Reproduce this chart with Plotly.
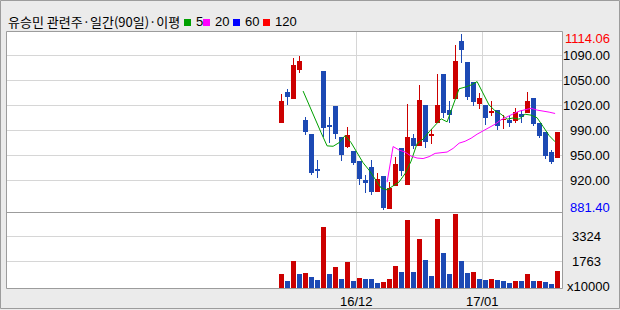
import plotly.graph_objects as go
import pandas as pd

# ---------------- data ----------------
idx = list(range(47))  # trading days 16/11/14 .. 17/01/18
opens = [996.8, 1037.4, 1028.5, 1066.9, 1000.4, 981.9, 935.6, 1065.2, 993.8, 1018.9,
         977.9, 965.1, 959.4, 946.2, 920.7, 938.2, 905.6, 926.3, 883.1, 913.1,
         963.4, 914.4, 977.0, 966.4, 1020.2, 979.6, 996.4, 1061.2, 1013.6, 1028.5,
         1104.8, 1077.0, 1050.6, 1021.9, 1020.2, 1010.0, 1013.6, 1000.4, 1000.8, 999.4,
         1008.3, 1010.0, 1029.5, 996.4, 984.5, 958.1, 950.5]
highs = [1034.3, 1041.4, 1082.3, 1085.0, 1003.9, 981.9, 947.5, 1065.2, 1003.9, 1018.9,
         977.9, 991.1, 959.4, 946.2, 927.7, 947.5, 930.3, 926.3, 918.4, 951.5,
         963.4, 1021.5, 981.9, 1046.6, 1020.2, 988.5, 1061.2, 1061.2, 1025.5, 1099.5,
         1114.06, 1077.0, 1050.6, 1036.1, 1020.2, 1025.5, 1013.6, 1007.0, 1005.7, 1016.2,
         1013.6, 1037.8, 1029.5, 996.4, 984.5, 960.7, 984.5]
lows = [996.8, 1020.2, 1028.5, 1062.9, 980.9, 928.1, 924.1, 978.3, 970.4, 975.7,
        946.6, 963.0, 941.3, 914.8, 904.3, 901.6, 905.6, 881.4, 883.1, 913.1,
        927.0, 914.4, 962.0, 966.4, 963.0, 969.0, 996.4, 1003.4, 996.4, 1028.5,
        1076.1, 1026.8, 1018.9, 1014.9, 993.8, 1006.1, 987.5, 988.5, 991.5, 996.8,
        996.8, 1010.0, 992.8, 976.6, 949.2, 942.6, 950.5]
closes = [1025.5, 1031.2, 1073.1, 1078.4, 984.9, 930.7, 933.9, 990.2, 991.1, 982.3,
          954.5, 980.5, 943.9, 922.8, 917.5, 905.6, 922.4, 884.4, 910.1, 942.2,
          933.3, 977.9, 966.4, 1026.8, 971.7, 980.9, 1020.2, 1010.0, 1007.0, 1078.4,
          1092.9, 1030.8, 1024.2, 1029.5, 1003.4, 1012.7, 992.8, 1001.7, 996.8, 1011.3,
          1004.7, 1025.5, 995.5, 979.6, 953.2, 945.2, 984.5]
volumes = [1012, 574, 1823, 1012, 1074, 824, 637, 3946, 1012, 1449,
           699, 1761, 574, 762, 699, 690, 450, 512, 699, 1511,
           1136, 4383, 1136, 3197, 1886, 887, 4446, 2323, 1012, 4758,
           1823, 1074, 1136, 699, 637, 699, 637, 574, 450, 574,
           570, 1012, 574, 585, 512, 387, 1199]  # x10000

ma_periods = [5, 20, 60, 120]
ma_colors = ['#00a000', '#ff00ff', '#0000ff', '#ff0000']
price_ticks = [1086.3, 1053.2, 1020.2, 987.1, 954.1, 921.0]
price_tick_text = ['1090.00', '1050.00', '1020.00', '990.00', '950.00', '920.00']
vol_ticks = [1763, 3324]
month_ticks = [12.5, 33.5]
month_labels = ['16/12', '17/01']
title_text = '유승민 관련주·일간(90일)·이평'
vol_unit = 'x10000'

# ---------------- layout constants (pixels) ----------------
W, H = 620, 310
PL, PR, PT, PB = 7, 562, 31, 288
SEP = 212
SLOT0, SLOT = 281.5, 6.0
UP, DOWN = '#cc0000', '#1c49b4'
GRID = '#d6d6d6'
FRAME = '#9c9c9c'
NUMFONT = 'Liberation Sans Narrow, Liberation Sans, Arial, sans-serif'
KFONT = 'Noto Sans CJK KR, sans-serif'


def xp(px):
    return (px - PL) / (PR - PL)


def yp(py):
    return (PB - py) / (PB - PT)


x_range = [(PL - SLOT0) / SLOT, (PR - SLOT0) / SLOT]
price_range = [878.75, 1118.03]
vol_range = [137, 4883]

fig = go.Figure()

up = [c >= o for o, c in zip(opens, closes)]
ccol = [UP if u else DOWN for u in up]

# wicks
fig.add_trace(go.Bar(
    x=idx, y=[h - l for h, l in zip(highs, lows)], base=lows, width=1 / SLOT,
    marker=dict(color=ccol, line=dict(width=0)), xaxis='x', yaxis='y', hoverinfo='skip'))
# bodies
fig.add_trace(go.Bar(
    x=idx, y=[max(abs(c - o), 1.3) for o, c in zip(opens, closes)],
    base=[min(o, c) for o, c in zip(opens, closes)], width=5 / SLOT,
    marker=dict(color=ccol, line=dict(width=0)), xaxis='x', yaxis='y', hoverinfo='skip'))

# moving averages
s = pd.Series(closes)
ma5 = s.rolling(ma_periods[0]).mean()
ma20 = s.rolling(ma_periods[1], min_periods=ma_periods[1] - 1).sum() / ma_periods[1]
line_x = [i - 0.4 for i in idx]
fig.add_trace(go.Scatter(x=line_x, y=ma5, mode='lines', line=dict(color=ma_colors[0], width=1),
                         xaxis='x', yaxis='y', hoverinfo='skip'))
fig.add_trace(go.Scatter(x=line_x, y=ma20, mode='lines', line=dict(color=ma_colors[1], width=1),
                         xaxis='x', yaxis='y', hoverinfo='skip'))

# volume
vcol = [UP] + [UP if volumes[i] > volumes[i - 1] else DOWN for i in range(1, len(volumes))]
fig.add_trace(go.Bar(x=idx, y=volumes, width=5 / SLOT, marker=dict(color=vcol, line=dict(width=0)),
                     xaxis='x', yaxis='y2', hoverinfo='skip'))

ann = []
for v, t in zip(price_ticks, price_tick_text):
    ann.append(dict(x=xp(611.7), xref='paper', y=v, yref='y', xanchor='right', yanchor='middle',
                    text=t, showarrow=False, font=dict(family=NUMFONT, size=13, color='black')))
hi, lo = max(highs), min(lows)
ann.append(dict(x=xp(611.7), xref='paper', y=hi, yref='y', xanchor='right', yanchor='middle', yshift=-4,
                text=f'{hi:.2f}', showarrow=False, font=dict(family=NUMFONT, size=13, color='#ff0000')))
ann.append(dict(x=xp(611.7), xref='paper', y=lo, yref='y', xanchor='right', yanchor='middle', yshift=3,
                text=f'{lo:.2f}', showarrow=False, font=dict(family=NUMFONT, size=13, color='#0000ff')))
for v in vol_ticks:
    ann.append(dict(x=xp(570), xref='paper', y=v, yref='y2', xanchor='left', yanchor='middle',
                    text=str(v), showarrow=False, font=dict(family=NUMFONT, size=13, color='black')))
ann.append(dict(x=xp(611.7), xref='paper', y=yp(286), yref='paper', xanchor='right', yanchor='middle',
                text=vol_unit, showarrow=False, font=dict(family=NUMFONT, size=13, color='black')))
for v, t in zip(month_ticks, month_labels):
    ann.append(dict(x=v, xref='x', y=yp(301), yref='paper', xanchor='center', yanchor='middle',
                    text=t, showarrow=False, font=dict(family=NUMFONT, size=13, color='black')))

# title + legend
ann.append(dict(x=xp(6), xref='paper', y=yp(21.5), yref='paper', xanchor='left', yanchor='middle',
                text=title_text, showarrow=False, font=dict(family=KFONT, size=13, color='black')))
legend_sq_x = [184, 203, 233, 263]
shapes = []
for px0, per, col in zip(legend_sq_x, ma_periods, ma_colors):
    shapes.append(dict(type='rect', xref='paper', yref='paper', x0=xp(px0), x1=xp(px0 + 7),
                       y0=yp(26), y1=yp(19), fillcolor=col, line=dict(width=0)))
    ann.append(dict(x=xp(px0 + 10), xref='paper', y=yp(22), yref='paper', xanchor='left', yanchor='middle',
                    text=str(per), showarrow=False, font=dict(family=NUMFONT, size=13, color='black')))

# frames
shapes.append(dict(type='rect', xref='paper', yref='paper', x0=xp(6.5), x1=xp(562.5), y0=yp(288.5), y1=yp(31.5),
                   line=dict(color=FRAME, width=1), layer='above'))
shapes.append(dict(type='line', xref='paper', yref='paper', x0=xp(7), x1=xp(562), y0=yp(212.5), y1=yp(212.5),
                   line=dict(color=FRAME, width=1), layer='above'))
shapes.append(dict(type='rect', xref='paper', yref='paper', x0=xp(0.5), x1=xp(619.5), y0=yp(308.5), y1=yp(0.5),
                   line=dict(color=FRAME, width=1), layer='above'))

fig.update_layout(
    width=W, height=H, margin=dict(l=PL, r=W - PR, t=PT, b=H - PB, pad=0),
    paper_bgcolor='#ebebeb', plot_bgcolor='white', showlegend=False,
    barmode='overlay', bargap=0,
    xaxis=dict(domain=[0, 1], range=x_range, anchor='y2', tickvals=month_ticks, showticklabels=False,
               showgrid=True, gridcolor=GRID, gridwidth=1, zeroline=False, showline=False, ticks=''),
    yaxis=dict(domain=[yp(SEP), 1], range=price_range, anchor='x', side='right', tickvals=price_ticks,
               showticklabels=False, showgrid=True, gridcolor=GRID, zeroline=False, showline=False, ticks=''),
    yaxis2=dict(domain=[0, yp(SEP)], range=vol_range, anchor='x', side='right', tickvals=vol_ticks,
                showticklabels=False, showgrid=True, gridcolor=GRID, zeroline=False, showline=False, ticks=''),
    annotations=ann, shapes=shapes,
)

fig.write_html('out.html', config={'displayModeBar': False})
